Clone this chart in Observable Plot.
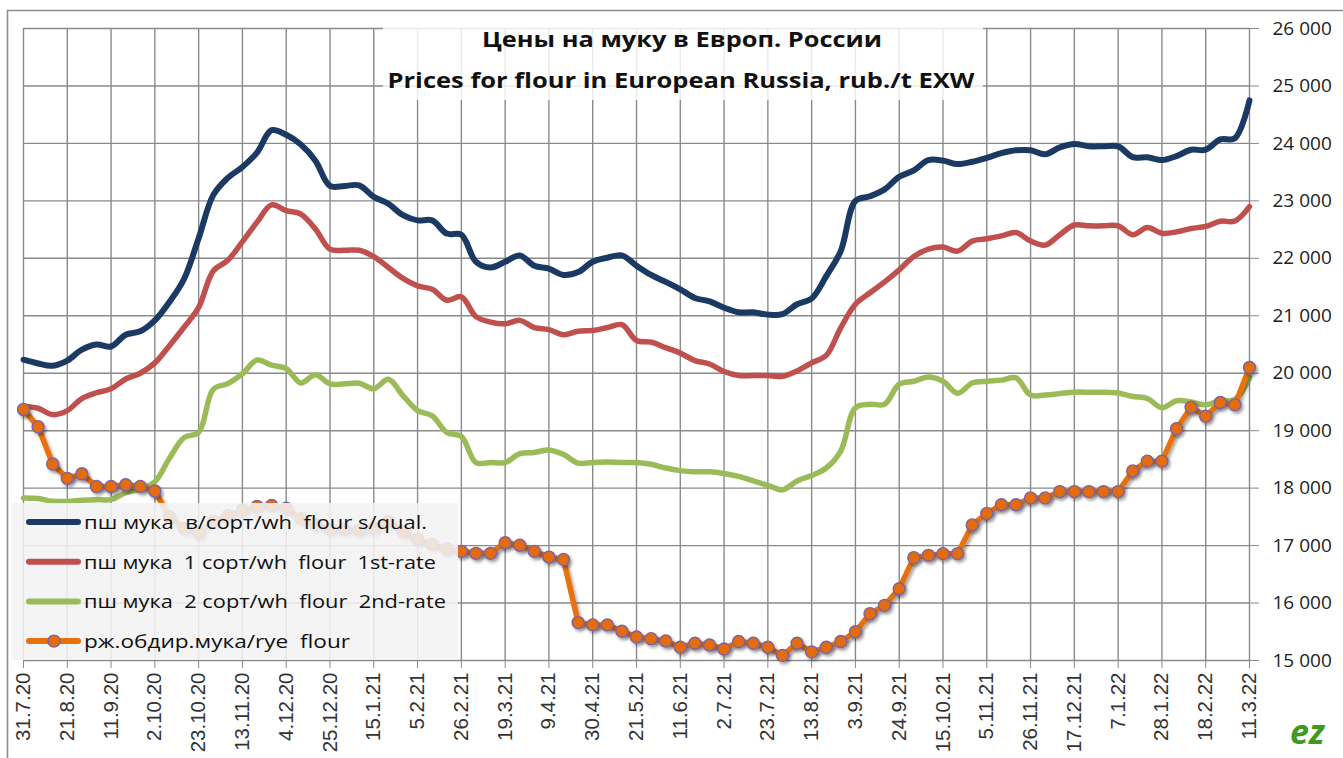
<!DOCTYPE html>
<html>
<head>
<meta charset="utf-8">
<script src="https://cdn.jsdelivr.net/npm/d3@7"></script>
<script src="https://cdn.jsdelivr.net/npm/@observablehq/plot@0.6"></script>
<style>
  html, body { margin: 0; padding: 0; background: #fff; overflow: hidden; }
  #wrap { position: relative; width: 1343px; height: 758px; }
  #wrap > svg { position: absolute; left: 0; top: 0; }
  #overlay { pointer-events: none; }
</style>
</head>
<body>
<div id="wrap"></div>
<script>
// ---- data (weekly, 31.7.20 .. 11.3.22), rub./t EXW ----
const tickLabels = ["31.7.20","21.8.20","11.9.20","2.10.20","23.10.20","13.11.20","4.12.20","25.12.20","15.1.21","5.2.21","26.2.21","19.3.21","9.4.21","30.4.21","21.5.21","11.6.21","2.7.21","23.7.21","13.8.21","3.9.21","24.9.21","15.10.21","5.11.21","26.11.21","17.12.21","7.1.22","28.1.22","18.2.22","11.3.22"];
const yTicks = [15000,16000,17000,18000,19000,20000,21000,22000,23000,24000,25000,26000];

const seriesNames = ["пш мука  в/сорт/wh  flour s/qual.", "пш мука  1 сорт/wh  flour  1st-rate", "пш мука  2 сорт/wh  flour  2nd-rate", "рж.обдир.мука/rye  flour"];
const seriesColors = ["#1b3a63", "#c0504d", "#9bbb59", "#e8710f"];

const flourPremium = [20235,20170,20130,20220,20410,20500,20465,20670,20730,20920,21240,21640,22350,23100,23400,23590,23840,24230,24150,23980,23700,23260,23260,23270,23070,22950,22750,22660,22660,22430,22410,21940,21840,21940,22050,21870,21820,21710,21760,21940,22010,22050,21870,21710,21590,21460,21310,21250,21140,21060,21060,21020,21030,21200,21300,21690,22130,23000,23080,23200,23420,23530,23710,23700,23640,23680,23750,23830,23880,23880,23810,23930,23990,23950,23950,23950,23760,23760,23710,23780,23890,23890,24070,24090,24750];
const flourFirst = [19420,19390,19280,19350,19560,19660,19730,19900,20000,20180,20480,20800,21145,21780,21965,22290,22630,22930,22830,22770,22510,22160,22140,22140,22030,21840,21650,21520,21460,21270,21330,20985,20890,20860,20920,20795,20760,20670,20730,20745,20795,20845,20570,20540,20445,20350,20220,20160,20030,19960,19960,19960,19945,20040,20180,20310,20795,21200,21400,21590,21800,22030,22160,22195,22125,22300,22340,22390,22450,22300,22230,22410,22580,22565,22565,22565,22410,22535,22435,22460,22520,22555,22645,22650,22900];
const flourSecond = [17830,17820,17770,17770,17790,17800,17800,17920,17980,18110,18520,18880,18970,19720,19820,19990,20230,20140,20080,19830,19975,19815,19815,19825,19730,19895,19610,19350,19260,18970,18900,18445,18445,18445,18600,18620,18665,18585,18435,18445,18455,18445,18445,18415,18350,18305,18285,18285,18255,18205,18125,18050,17970,18125,18220,18350,18650,19400,19460,19460,19810,19860,19935,19860,19650,19830,19860,19880,19920,19620,19620,19645,19670,19670,19670,19655,19595,19560,19400,19520,19500,19450,19520,19545,19920];
const flourRye = [19370,19070,18420,18170,18250,18030,18030,18060,18030,17950,17500,17300,17220,17420,17520,17620,17680,17700,17650,17470,17370,17280,17290,17270,17300,17420,17240,17110,17020,16940,16900,16865,16865,17050,17005,16900,16800,16760,15660,15620,15620,15510,15410,15380,15340,15230,15300,15270,15200,15330,15300,15230,15090,15300,15150,15230,15330,15500,15815,15960,16250,16790,16830,16860,16860,17360,17560,17710,17710,17830,17830,17940,17940,17940,17940,17940,18300,18470,18470,19035,19410,19250,19490,19450,20100];

// ---- build ----
const toRows = (arr) => arr.map((v, i) => ({ i, v }));
const tickIdx = tickLabels.map((_, k) => k * 3);
const fmtY = d => d3.format(",")(d).replace(/,/g, " ");

const chart = Plot.plot({
  width: 1343,
  height: 758,
  marginLeft: 23,
  marginRight: 94,
  marginTop: 28,
  marginBottom: 98,
  style: { background: "transparent", overflow: "visible" },
  x: { type: "linear", domain: [0, flourPremium.length - 1] },
  y: { domain: [15000, 26000] },
  marks: [
    Plot.gridX(tickIdx, { stroke: "#8a8a8a", strokeOpacity: 1, strokeWidth: 1.4 }),
    Plot.gridY(yTicks, { stroke: "#8a8a8a", strokeOpacity: 1, strokeWidth: 1.4 }),
    Plot.axisX({
      ticks: tickIdx, tickFormat: i => tickLabels[i / 3],
      tickRotate: -90, tickSize: 8, tickPadding: 4,
      stroke: "#8a8a8a", fill: "#333", fontSize: 20.5,
      fontFamily: "Liberation Sans, Arial, sans-serif", label: null
    }),
    Plot.axisY({
      anchor: "right", ticks: yTicks, tickFormat: fmtY,
      tickSize: 9, tickPadding: 14, stroke: "#8a8a8a", fill: "#222",
      fontSize: 19, fontFamily: "Open Sans, sans-serif", label: null
    }),
    Plot.line(toRows(flourPremium), { x: "i", y: "v", stroke: seriesColors[0], strokeWidth: 6, curve: "catmull-rom" }),
    Plot.line(toRows(flourFirst), { x: "i", y: "v", stroke: seriesColors[1], strokeWidth: 5.5, curve: "catmull-rom" }),
    Plot.line(toRows(flourSecond), { x: "i", y: "v", stroke: seriesColors[2], strokeWidth: 5.5, curve: "catmull-rom" }),
    Plot.line(toRows(flourRye), { x: "i", y: "v", stroke: seriesColors[3], strokeWidth: 5.5 }),
    Plot.dot(toRows(flourRye), { x: "i", y: "v", r: 6, fill: "#e46c0a", stroke: "#7d62a3", strokeWidth: 1.4 })
  ]
});
const wrap = document.getElementById("wrap");
wrap.appendChild(chart);

// drop shadow for the rye series (as in the original)
const svg = d3.select(chart);
svg.insert("defs", ":first-child").html(
  '<filter id="sh" x="-20%" y="-20%" width="140%" height="140%"><feDropShadow dx="2" dy="2.5" stdDeviation="1.6" flood-color="#000" flood-opacity="0.35"/></filter>'
);
const lineGroups = svg.selectAll('g[aria-label="line"]').nodes();
d3.select(lineGroups[lineGroups.length - 1]).attr("filter", "url(#sh)");
svg.selectAll('g[aria-label="dot"]').attr("filter", "url(#sh)");

// ---- overlay: frame, title box, legend, logo ----
const ov = d3.select(wrap).append("svg").attr("id", "overlay")
  .attr("width", 1343).attr("height", 758);

ov.append("path").attr("d", "M7.5,758 L7.5,10.5 L1343,10.5")
  .attr("fill", "none").attr("stroke", "#8c8c8c").attr("stroke-width", 1.6);

// title
ov.append("rect").attr("x", 383).attr("y", 12).attr("width", 600).attr("height", 88)
  .attr("fill", "#fff").attr("fill-opacity", 0.82);
const titleFont = "Open Sans, sans-serif";
ov.append("text").attr("x", 682).attr("y", 47).attr("text-anchor", "middle")
  .attr("font-family", titleFont).attr("font-weight", "bold").attr("font-size", 22)
  .attr("fill", "#111").attr("textLength", 400).attr("lengthAdjust", "spacingAndGlyphs")
  .text("Цены на муку в Европ. России");
ov.append("text").attr("x", 681).attr("y", 88).attr("text-anchor", "middle")
  .attr("font-family", titleFont).attr("font-weight", "bold").attr("font-size", 22)
  .attr("fill", "#111").attr("textLength", 587).attr("lengthAdjust", "spacingAndGlyphs")
  .text("Prices for flour in European Russia, rub./t EXW");

// legend
ov.append("rect").attr("x", 12).attr("y", 503).attr("width", 446).attr("height", 157)
  .attr("fill", "#f2f2f2").attr("fill-opacity", 0.88);
const legendW = [343, 352, 362, 266];
seriesNames.forEach((name, k) => {
  const cy = 522 + k * 39.7;
  ov.append("line").attr("x1", 29).attr("x2", 78).attr("y1", cy).attr("y2", cy)
    .attr("stroke", seriesColors[k]).attr("stroke-width", 6).attr("stroke-linecap", "round");
  if (k === 3) {
    ov.append("circle").attr("cx", 54).attr("cy", cy).attr("r", 6)
      .attr("fill", "#e46c0a").attr("stroke", "#7d62a3").attr("stroke-width", 1.4);
  }
  ov.append("text").attr("x", 84).attr("y", cy + 7)
    .attr("font-family", "Open Sans, sans-serif").attr("font-size", 18.5).attr("fill", "#111")
    .attr("xml:space", "preserve").style("white-space", "pre")
    .attr("textLength", legendW[k]).attr("lengthAdjust", "spacingAndGlyphs")
    .text(name);
});

// logo
ov.append("text").attr("x", 1290).attr("y", 744)
  .attr("font-family", "Open Sans, sans-serif").attr("font-weight", "bold").attr("font-style", "italic")
  .attr("font-size", 34).attr("fill", "#3d9a1c").text("ez");
</script>
</body>
</html>
